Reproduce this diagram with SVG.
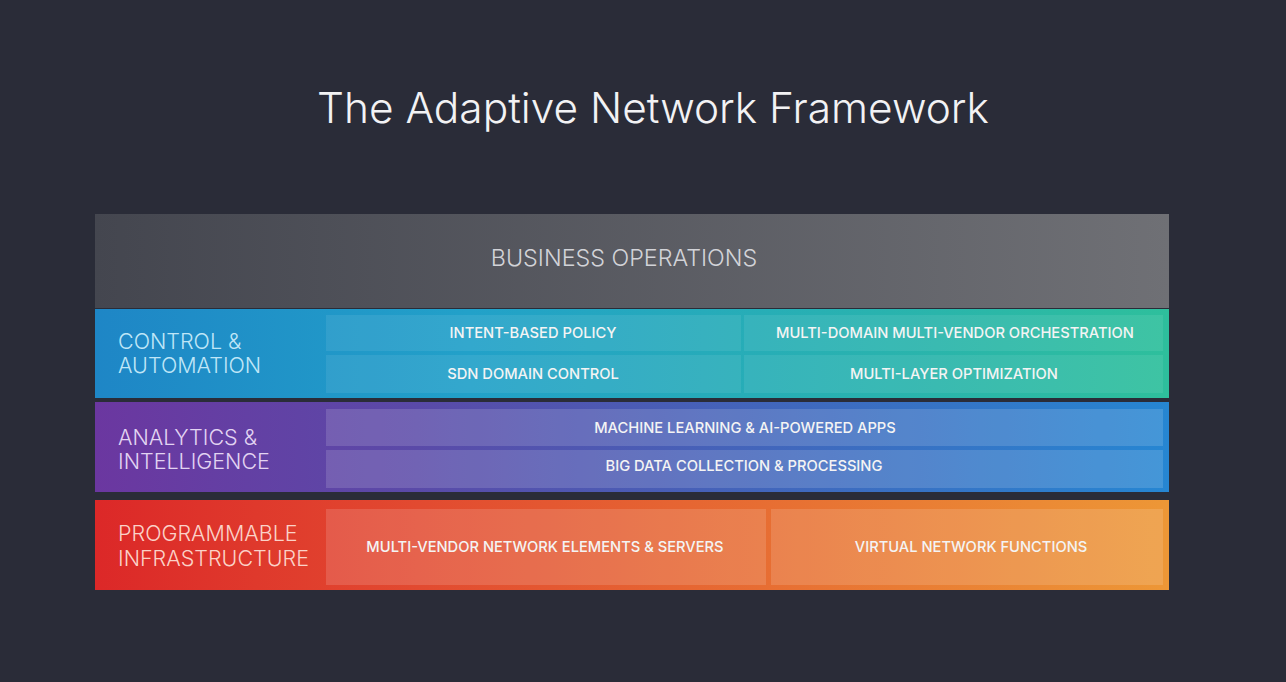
<svg xmlns="http://www.w3.org/2000/svg" width="1286" height="682" viewBox="0 0 1286 682">
<defs>
<linearGradient id="gBiz" x1="0" x2="1" y1="0" y2="0"><stop offset="0" stop-color="#44464f"/><stop offset="1" stop-color="#6f7075"/></linearGradient>
<linearGradient id="gCtl" x1="0" x2="1" y1="0" y2="0"><stop offset="0" stop-color="#1e86c6"/><stop offset="0.35" stop-color="#22a1c9"/><stop offset="1" stop-color="#2ebf9c"/></linearGradient>
<linearGradient id="gAna" x1="0" x2="1" y1="0" y2="0"><stop offset="0" stop-color="#6b37a0"/><stop offset="0.3" stop-color="#5a4aa8"/><stop offset="1" stop-color="#2686d2"/></linearGradient>
<linearGradient id="gInf" x1="0" x2="1" y1="0" y2="0"><stop offset="0" stop-color="#dc2828"/><stop offset="0.3" stop-color="#e24a30"/><stop offset="1" stop-color="#ed9736"/></linearGradient>
<style>
.title{font-family:Inter,"Liberation Sans",sans-serif;font-weight:300;font-size:42.4px;fill:#f2f2f4}
.biz{font-family:Inter,"Liberation Sans",sans-serif;font-weight:300;font-size:23.3px;fill:#d2d3d8}
.lbl{font-family:Inter,"Liberation Sans",sans-serif;font-weight:300;font-size:21.5px}
.in{font-family:Inter,"Liberation Sans",sans-serif;font-weight:500;font-size:14.7px;fill:#f4f4f4;text-anchor:middle}
.box{fill:#ffffff;fill-opacity:0.08}
.boxI{fill:#ffffff;fill-opacity:0.14}
</style>
</defs>
<rect width="1286" height="682" fill="#2a2c38"/>
<text class="title" x="653" y="123" text-anchor="middle">The Adaptive Network Framework</text>
<g id="business">
<rect x="95" y="214" width="1074" height="94" fill="url(#gBiz)"/>
<text class="biz" x="624" y="266" text-anchor="middle">BUSINESS OPERATIONS</text>
</g>
<g id="control">
<rect x="95" y="309" width="1074" height="89" fill="url(#gCtl)"/>
<text class="lbl" x="118" y="349" fill="#bfe6f7">CONTROL &amp;</text>
<text class="lbl" x="118" y="373" fill="#bfe6f7">AUTOMATION</text>
<g id="intent"><rect class="box" x="326" y="315" width="415" height="36"/><text class="in" x="533" y="338">INTENT-BASED POLICY</text></g>
<g id="orchestration"><rect class="box" x="744" y="315" width="419" height="36"/><text class="in" x="955" y="338">MULTI-DOMAIN MULTI-VENDOR ORCHESTRATION</text></g>
<g id="sdn"><rect class="box" x="326" y="355" width="415" height="38"/><text class="in" x="533" y="379">SDN DOMAIN CONTROL</text></g>
<g id="optimization"><rect class="box" x="744" y="355" width="419" height="38"/><text class="in" x="954" y="379">MULTI-LAYER OPTIMIZATION</text></g>
</g>
<g id="analytics">
<rect x="95" y="402" width="1074" height="90" fill="url(#gAna)"/>
<text class="lbl" x="118" y="445" fill="#e2d4f2">ANALYTICS &amp;</text>
<text class="lbl" x="118" y="469" fill="#e2d4f2">INTELLIGENCE</text>
<g id="ml"><rect class="boxI" x="326" y="409" width="837" height="37"/><text class="in" x="745" y="433">MACHINE LEARNING &amp; AI-POWERED APPS</text></g>
<g id="bigdata"><rect class="boxI" x="326" y="450" width="837" height="38"/><text class="in" x="744" y="471">BIG DATA COLLECTION &amp; PROCESSING</text></g>
</g>
<g id="infrastructure">
<rect x="95" y="500" width="1074" height="90" fill="url(#gInf)"/>
<text class="lbl" x="118" y="541" fill="#fbd2c8">PROGRAMMABLE</text>
<text class="lbl" x="118" y="566" fill="#fbd2c8">INFRASTRUCTURE</text>
<g id="elements"><rect class="boxI" x="326" y="509" width="440" height="76"/><text class="in" x="545" y="552">MULTI-VENDOR NETWORK ELEMENTS &amp; SERVERS</text></g>
<g id="vnf"><rect class="boxI" x="771" y="509" width="392" height="76"/><text class="in" x="971" y="552">VIRTUAL NETWORK FUNCTIONS</text></g>
</g>
<g id="connectors"/>
</svg>
